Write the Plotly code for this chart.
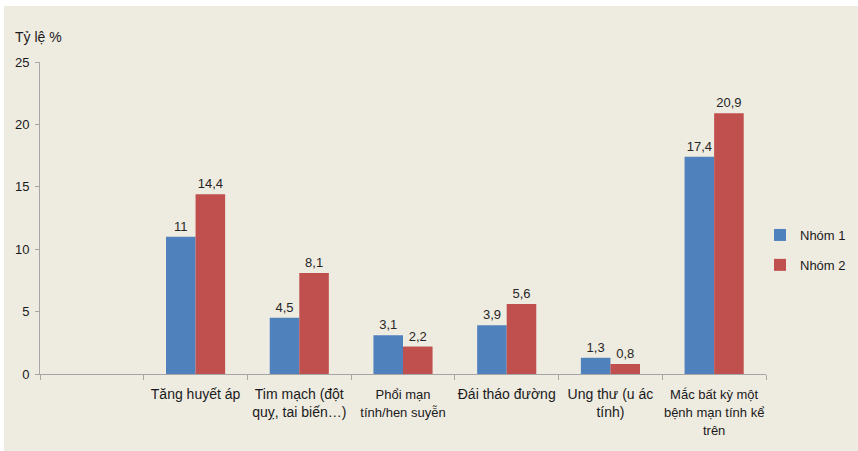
import plotly.graph_objects as go

# Chart data
categories = ["", "Tăng huyết áp", "Tim mạch (đột quỵ, tai biến…)", "Phổi mạn tính/hen suyễn",
              "Đái tháo đường", "Ung thư (u ác tính)", "Mắc bất kỳ một bệnh mạn tính kể trên"]
tick_labels = [
    "",
    "Tăng huyết áp",
    "Tim mạch (đột<br>quỵ, tai biến…)",
    "<span style='font-size:13px'>Phổi mạn<br>tính/hen suyễn</span>",
    "Đái tháo đường",
    "Ung thư (u ác<br>tính)",
    "<span style='font-size:13px'>Mắc bất kỳ một<br>bệnh mạn tính kể<br>trên</span>",
]
nhom1 = [None, 11, 4.5, 3.1, 3.9, 1.3, 17.4]
nhom2 = [None, 14.4, 8.1, 2.2, 5.6, 0.8, 20.9]
series_names = ["Nhóm 1", "Nhóm 2"]
colors = ["#4F81BD", "#C0504D"]
y_ticks = [0, 5, 10, 15, 20, 25]

FONT = "Liberation Sans Narrow, Liberation Sans, Arial, sans-serif"
BG = "#EEEBE1"
W, H = 858, 451
L, R, T, B = 40, 92, 62, 77
PW, PH = W - L - R, H - T - B


def fmt(v):
    if v is None:
        return ""
    s = f"{v:g}"
    return s.replace(".", ",")


xcat = [c if c else " " for c in categories]

fig = go.Figure()
for i, (name, vals) in enumerate(zip(series_names, [nhom1, nhom2])):
    fig.add_trace(go.Bar(
        x=xcat, y=vals, name=name,
        marker=dict(color=colors[i], line=dict(width=0)),
        text=[fmt(v) for v in vals], textposition="outside",
        textfont=dict(family=FONT, size=13, color="#262626"),
        cliponaxis=False, legendgroup=f"g{i}",
    ))


def px_x(p):
    return (p - L) / PW


def px_y(p):
    return (H - B - p) / PH


# beige chart area inside a thin white frame
fig.add_shape(type="rect", xref="paper", yref="paper",
              x0=px_x(4), x1=px_x(W + 2), y0=px_y(6), y1=px_y(H + 2),
              fillcolor=BG, line=dict(width=0), layer="below")

fig.add_annotation(text="Tỷ lệ %", xref="paper", yref="paper",
                   x=px_x(13), y=px_y(37), xanchor="left", yanchor="middle",
                   showarrow=False, font=dict(family=FONT, size=14, color="#1a1a1a"))

fig.update_layout(
    width=W, height=H,
    margin=dict(l=L, r=R, t=T, b=B, pad=0, autoexpand=False),
    paper_bgcolor="white", plot_bgcolor=BG,
    barmode="group", bargap=0.43, bargroupgap=0,
    font=dict(family=FONT, size=13, color="#1a1a1a"),
    showlegend=True,
    legend=dict(x=px_x(760), y=px_y(250), xanchor="left", yanchor="middle",
                bgcolor="rgba(0,0,0,0)", tracegroupgap=10,
                font=dict(family=FONT, size=13, color="#1a1a1a"),
                itemwidth=30),
    xaxis=dict(type="category", tickmode="array", tickvals=xcat, ticktext=tick_labels,
               tickangle=0, automargin=False, ticklabelstandoff=7,
               showline=True, linecolor="#A6A6A6", linewidth=1,
               ticks="outside", tickson="boundaries", ticklen=5, tickcolor="#A6A6A6",
               showgrid=False, tickfont=dict(family=FONT, size=14, color="#1a1a1a")),
    yaxis=dict(range=[0, 25], tickvals=y_ticks, showline=True, linecolor="#A6A6A6",
               linewidth=1, ticks="outside", ticklen=4, tickcolor="#A6A6A6",
               showgrid=False, zeroline=False, automargin=False, ticklabelstandoff=3,
               tickfont=dict(family=FONT, size=13, color="#1a1a1a")),
)

fig.write_html("out.html")
